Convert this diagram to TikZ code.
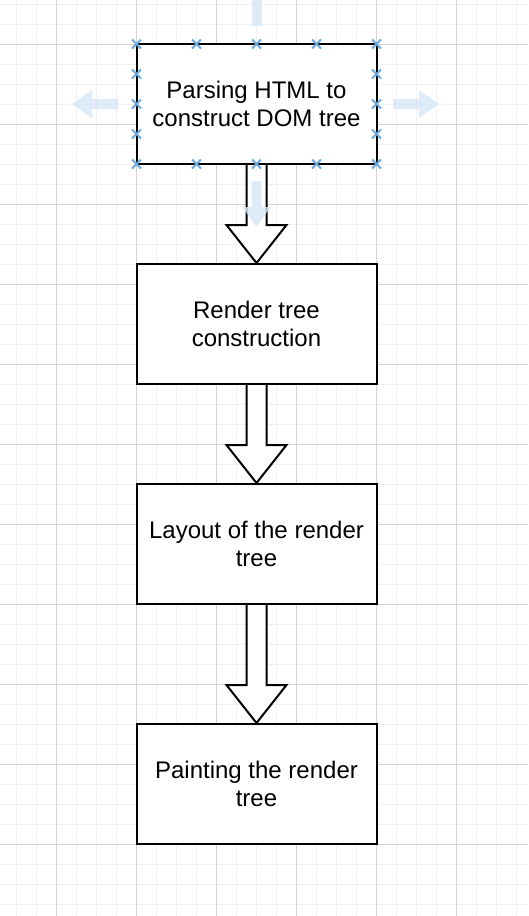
\documentclass[tikz,border=0pt]{standalone}
\usepackage{fontspec}
\setmainfont{Liberation Sans}
\usetikzlibrary{calc}
\definecolor{minorgrid}{HTML}{F0F0F0}
\definecolor{majorgrid}{HTML}{D4D4D4}
\definecolor{hintblue}{HTML}{6FA8DC}
\definecolor{ghostblue}{HTML}{D6E8F8}
\tikzset{
  box/.style={draw=black, line width=2pt, fill=white, minimum width=240pt, minimum height=120pt,
    inner sep=0pt, align=center, font=\fontsize{24}{28.8}\selectfont},
  blockarrow/.style={draw=black, line width=2pt, fill=white, line join=miter},
  xmark/.style={draw=hintblue, line width=1.8pt},
  ghost/.style={fill=ghostblue, fill opacity=0.8, draw=none}
}
\begin{document}
\begin{tikzpicture}[x=1pt, y=-1pt]
\useasboundingbox (0,0) rectangle (528,916);
\fill[white] (0,0) rectangle (528,916);
% grid
\foreach \gx in {16,36,...,516} \draw[minorgrid, line width=1pt] (\gx,0) -- (\gx,916);
\foreach \gy in {4,24,...,904} \draw[minorgrid, line width=1pt] (0,\gy) -- (528,\gy);
\foreach \gx in {56,136,...,456} \draw[majorgrid, line width=1pt] (\gx,0) -- (\gx,916);
\foreach \gy in {44,124,...,844} \draw[majorgrid, line width=1pt] (0,\gy) -- (528,\gy);

% boxes
\node[box] (b1) at (256.5,104) {Parsing HTML to\\construct DOM tree};
\node[box] (b2) at (256.5,324) {Render tree\\construction};
\node[box] (b3) at (256.5,544) {Layout of the render\\tree};
\node[box] (b4) at (256.5,784) {Painting the render\\tree};

% block arrows
\foreach \s/\t in {b1/b2, b2/b3, b3/b4}{
  \draw[blockarrow]
    ([xshift=-10pt]\s.south) -- ([xshift=-10pt,yshift=38pt]\t.north)
    -- ([xshift=-30pt,yshift=38pt]\t.north) -- (\t.north)
    -- ([xshift=30pt,yshift=38pt]\t.north) -- ([xshift=10pt,yshift=38pt]\t.north)
    -- ([xshift=10pt]\s.south);
}

% ghost arrows around selected box
\fill[ghost] (251.5,26) -- (251.5,-0) -- (261.5,-0) -- (261.5,26) -- cycle;
\fill[ghost] (251.5,181) -- (261.5,181) -- (261.5,207) -- (270.5,207) -- (256.5,227) -- (242.5,207) -- (251.5,207) -- cycle;
\fill[ghost] (118,99) -- (92,99) -- (92,90) -- (72,104) -- (92,118) -- (92,109) -- (118,109) -- cycle;
\fill[ghost] (393,99) -- (419,99) -- (419,90) -- (439,104) -- (419,118) -- (419,109) -- (393,109) -- cycle;

% selection handles
\foreach \hx in {136.5,196.5,256.5,316.5,376.5}{
  \foreach \hy in {44,164}{
    \draw[xmark] (\hx-4.5,\hy-4.5) -- (\hx+4.5,\hy+4.5) (\hx-4.5,\hy+4.5) -- (\hx+4.5,\hy-4.5);
  }
}
\foreach \hx in {136.5,376.5}{
  \foreach \hy in {74,104,134}{
    \draw[xmark] (\hx-4.5,\hy-4.5) -- (\hx+4.5,\hy+4.5) (\hx-4.5,\hy+4.5) -- (\hx+4.5,\hy-4.5);
  }
}
\end{tikzpicture}
\end{document}
